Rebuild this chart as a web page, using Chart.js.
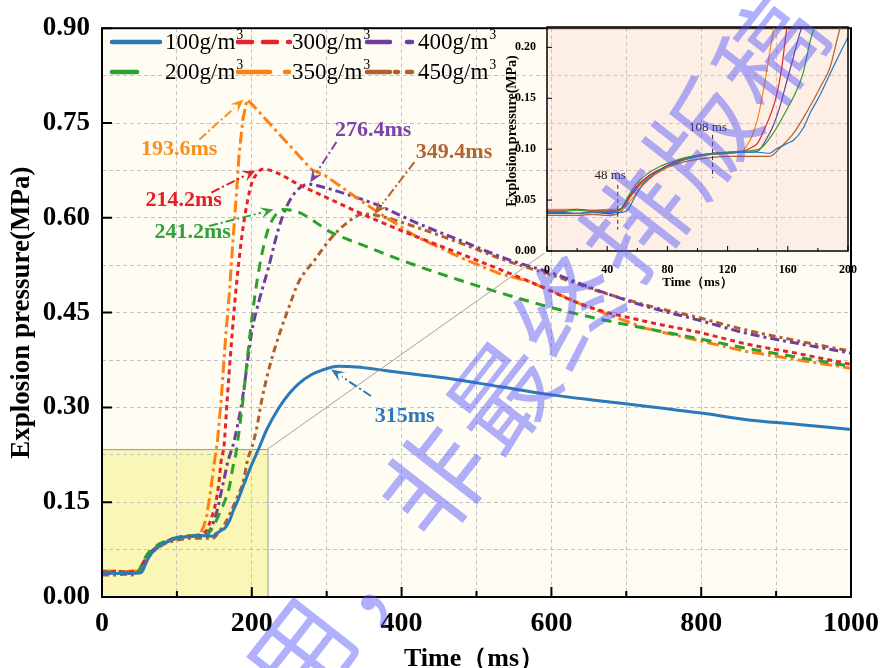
<!DOCTYPE html>
<html>
<head>
<meta charset="utf-8">
<script src="https://cdn.jsdelivr.net/npm/chart.js@4.4.0/dist/chart.umd.min.js"></script>
<style>
  html, body { margin: 0; padding: 0; background: #fff; overflow: hidden; }
  #wrap { position: relative; width: 889px; height: 668px; }
  #main { position: absolute; left: 0; top: 0; }
  #inset { position: absolute; left: 480px; top: 15px; }
  .wm {
    position: absolute;
    font-family: "Noto Sans CJK SC", sans-serif;
    font-size: 104px;
    line-height: 104px;
    color: rgba(80, 80, 250, 0.45);
    transform: translate(-50%, -50%) rotate(-52deg);
    white-space: nowrap;
    pointer-events: none;
  }
</style>
</head>
<body>
<div id="wrap">
  <canvas id="main" width="889" height="668"></canvas>
  <canvas id="inset" width="409" height="285"></canvas>
</div>
<script>
// time (ms) / pressure (MPa) for each dust concentration
const t100 = [0, 10, 20, 30, 40, 46, 50, 54, 58, 62, 66, 70, 75, 80, 90, 100, 110, 120, 130, 140, 148, 152, 156, 160, 164, 170, 175, 181, 190, 199, 209, 220, 236, 250, 262, 280, 302, 315, 340, 380, 420, 461, 530, 593, 660, 726, 800, 858, 930, 1000];
const p100 = [0.038, 0.038, 0.037, 0.038, 0.038, 0.038, 0.038, 0.041, 0.052, 0.062, 0.069, 0.074, 0.079, 0.083, 0.089, 0.093, 0.095, 0.096, 0.097, 0.097, 0.096, 0.100, 0.103, 0.106, 0.109, 0.120, 0.136, 0.152, 0.180, 0.207, 0.234, 0.265, 0.299, 0.322, 0.337, 0.352, 0.362, 0.365, 0.364, 0.358, 0.352, 0.346, 0.333, 0.321, 0.311, 0.302, 0.291, 0.281, 0.273, 0.265];

const t200 = [0, 10, 20, 30, 40, 46, 50, 54, 58, 62, 66, 70, 75, 80, 90, 100, 110, 120, 130, 141, 150, 159, 165, 170, 175, 178, 181, 188, 198, 207, 220, 232, 241, 262, 306, 350, 395, 450, 527, 600, 660, 726, 800, 858, 930, 1000];
const p200 = [0.039, 0.039, 0.040, 0.039, 0.039, 0.039, 0.043, 0.054, 0.063, 0.070, 0.075, 0.079, 0.083, 0.086, 0.091, 0.094, 0.096, 0.097, 0.098, 0.100, 0.115, 0.138, 0.155, 0.174, 0.207, 0.222, 0.245, 0.310, 0.420, 0.500, 0.575, 0.605, 0.613, 0.609, 0.577, 0.556, 0.535, 0.512, 0.483, 0.458, 0.441, 0.425, 0.408, 0.394, 0.379, 0.365];

const t300 = [0, 10, 20, 30, 40, 46, 50, 54, 58, 62, 66, 70, 75, 80, 90, 100, 110, 120, 130, 135, 140, 144, 148, 152, 156, 159, 163, 167, 174, 180, 187, 194, 200, 207, 214, 230, 262, 300, 351, 420, 483, 571, 650, 726, 800, 858, 930, 1000];
const p300 = [0.040, 0.040, 0.041, 0.040, 0.040, 0.040, 0.043, 0.052, 0.060, 0.067, 0.072, 0.076, 0.080, 0.084, 0.090, 0.094, 0.096, 0.097, 0.098, 0.101, 0.106, 0.118, 0.132, 0.150, 0.180, 0.215, 0.240, 0.310, 0.420, 0.500, 0.573, 0.625, 0.655, 0.670, 0.677, 0.673, 0.653, 0.632, 0.604, 0.570, 0.541, 0.499, 0.459, 0.436, 0.418, 0.401, 0.385, 0.368];

const t350 = [0, 10, 20, 30, 40, 46, 50, 54, 58, 62, 66, 70, 75, 80, 90, 100, 110, 120, 130, 132, 136, 140, 144, 148, 151, 154, 159, 165, 170, 174, 179, 183, 188, 193.6, 200, 240, 280, 298, 330, 368, 420, 483, 530, 571, 642, 726, 800, 858, 930, 1000];
const p350 = [0.041, 0.041, 0.041, 0.040, 0.041, 0.041, 0.041, 0.047, 0.054, 0.062, 0.068, 0.073, 0.078, 0.082, 0.089, 0.093, 0.095, 0.097, 0.098, 0.102, 0.112, 0.130, 0.160, 0.195, 0.222, 0.245, 0.310, 0.410, 0.480, 0.550, 0.630, 0.700, 0.755, 0.787, 0.780, 0.728, 0.676, 0.667, 0.640, 0.609, 0.570, 0.535, 0.512, 0.499, 0.462, 0.425, 0.405, 0.389, 0.375, 0.362];

const t400 = [0, 10, 20, 30, 40, 46, 50, 54, 58, 62, 66, 70, 75, 80, 90, 100, 110, 120, 130, 140, 145, 150, 155, 159, 164, 168, 176, 187, 200, 210, 222, 235, 245, 260, 276, 300, 330, 368, 420, 483, 540, 607, 660, 726, 800, 858, 930, 1000];
const p400 = [0.037, 0.037, 0.037, 0.038, 0.037, 0.038, 0.042, 0.052, 0.060, 0.067, 0.072, 0.076, 0.080, 0.084, 0.090, 0.093, 0.095, 0.096, 0.097, 0.098, 0.108, 0.122, 0.143, 0.165, 0.192, 0.214, 0.245, 0.310, 0.420, 0.470, 0.520, 0.580, 0.614, 0.643, 0.653, 0.647, 0.636, 0.620, 0.592, 0.562, 0.535, 0.510, 0.486, 0.460, 0.437, 0.418, 0.401, 0.386];

const t450 = [0, 10, 20, 30, 40, 46, 50, 54, 58, 62, 66, 70, 75, 80, 90, 100, 110, 120, 130, 148, 156, 164, 170, 177, 182, 188, 195, 200, 207, 213, 225, 238, 250, 262, 285, 306, 325, 349, 370, 420, 483, 540, 607, 660, 726, 800, 858, 930, 1000];
const p450 = [0.035, 0.035, 0.035, 0.036, 0.035, 0.036, 0.040, 0.050, 0.058, 0.065, 0.070, 0.074, 0.078, 0.082, 0.087, 0.090, 0.092, 0.093, 0.093, 0.093, 0.103, 0.116, 0.130, 0.148, 0.162, 0.180, 0.220, 0.236, 0.270, 0.310, 0.370, 0.420, 0.460, 0.497, 0.535, 0.568, 0.590, 0.606, 0.603, 0.585, 0.558, 0.532, 0.507, 0.485, 0.462, 0.441, 0.423, 0.405, 0.389];

const seriesNames = ["100", "200", "300", "350", "400", "450"];
const seriesTimes = [t100, t200, t300, t350, t400, t450];
const seriesValues = [p100, p200, p300, p350, p400, p450];
const seriesColors = ["#2a79b8", "#2ca02c", "#e6222a", "#ff8010", "#6f3c9f", "#b0602c"];
const seriesDash = [[], [10, 7], [5, 4], [12, 4, 3, 4], [9, 4, 3, 4], [7, 4, 3, 4]];
const legendDash = [[], [25, 40], [14, 11], [32, 15, 4, 20], [23, 17, 5, 20], [23, 5, 3, 9, 10, 20]];

// peak times called out on the main plot
const peakLabels = ["315ms", "241.2ms", "214.2ms", "193.6ms", "276.4ms", "349.4ms"];
const peakTextAt = [[404, 0.286], [121, 0.577], [109, 0.628], [103, 0.708], [362, 0.739], [470, 0.703]];
const peakArrowFrom = [[359, 0.318], [143, 0.587], [146, 0.640], [130, 0.724], [313, 0.720], [417, 0.688]];
const peakArrowTo = [[306, 0.360], [229, 0.613], [205, 0.675], [189, 0.787], [278, 0.656], [364, 0.606]];
const peakColors = ["#2a79b8", "#2fa33a", "#e31e24", "#f7901e", "#7a44a8", "#b2672f"];

const mainXLabels = [0, 200, 400, 600, 800, 1000];
const mainYLabels = [0, 0.15, 0.30, 0.45, 0.60, 0.75, 0.90];
const insetXLabels = [0, 40, 80, 120, 160, 200];
const insetYLabels = [0, 0.05, 0.10, 0.15, 0.20];

const zoomBox = { x: 221, y: 0.234 };
const insetCorner = { x: 590.7, y: 0.544 };
const insetMarks = [
  { text: "48 ms", at: [42, 0.0745], x: 47, from: 0.065, to: 0.021 },
  { text: "108 ms", at: [107, 0.121], x: 110, from: 0.114, to: 0.072 },
];

const watermarkText = "用，非最终排版稿";

const serif = "'Liberation Serif', 'Times New Roman', serif";
const near = (a, b) => Math.abs(a - b) < 1e-6;

function buildPoints(times, values) {
  return times.map((t, i) => ({ x: t, y: values[i] }));
}

const mainDatasets = seriesNames.map((name, i) => ({
  label: `${name}g/m3`,
  data: buildPoints(seriesTimes[i], seriesValues[i]),
  borderColor: seriesColors[i],
  borderWidth: 3,
  borderDash: seriesDash[i],
  pointRadius: 0,
  fill: false,
  tension: name === "350" ? 0 : 0.3,
  cubicInterpolationMode: name === "350" ? "default" : "monotone",
}));

const insetDatasets = seriesNames.map((name, i) => ({
  label: `${name}g/m3`,
  data: buildPoints(seriesTimes[i], seriesValues[i]),
  borderColor: seriesColors[i],
  borderWidth: 1.2,
  pointRadius: 0,
  fill: false,
  cubicInterpolationMode: "monotone",
}));

// legend layout order (two rows of three)
const legendOrder = [[0, 2, 4], [1, 3, 5]];
const legendCols = [[112, 160, 165], [238, 290, 292], [367, 412, 418]];
const legendRows = [42, 72];

function drawArrow(ctx, x1, y1, x2, y2, color) {
  const ang = Math.atan2(y2 - y1, x2 - x1);
  const head = 13;
  const bx = x2 - head * Math.cos(ang);
  const by = y2 - head * Math.sin(ang);
  ctx.save();
  ctx.strokeStyle = color;
  ctx.fillStyle = color;
  ctx.lineWidth = 2;
  ctx.setLineDash([9, 3, 2, 3]);
  ctx.beginPath();
  ctx.moveTo(x1, y1);
  ctx.lineTo(bx, by);
  ctx.stroke();
  ctx.setLineDash([]);
  ctx.beginPath();
  ctx.moveTo(x2, y2);
  ctx.lineTo(bx + 5.5 * Math.sin(ang), by - 5.5 * Math.cos(ang));
  ctx.lineTo(x2 - 0.6 * head * Math.cos(ang), y2 - 0.6 * head * Math.sin(ang));
  ctx.lineTo(bx - 5.5 * Math.sin(ang), by + 5.5 * Math.cos(ang));
  ctx.closePath();
  ctx.fill();
  ctx.restore();
}

function drawInwardTicks(ctx, chart, xMajor, xMinor, yMajor, majorLen, minorLen, width) {
  const { chartArea: a, scales: { x, y } } = chart;
  ctx.save();
  ctx.strokeStyle = "#000";
  ctx.lineWidth = width;
  ctx.beginPath();
  xMajor.forEach((v) => {
    const px = x.getPixelForValue(v);
    ctx.moveTo(px, a.bottom);
    ctx.lineTo(px, a.bottom - majorLen);
  });
  xMinor.forEach((v) => {
    const px = x.getPixelForValue(v);
    ctx.moveTo(px, a.bottom);
    ctx.lineTo(px, a.bottom - minorLen);
  });
  yMajor.forEach((v) => {
    const py = y.getPixelForValue(v);
    ctx.moveTo(a.left, py);
    ctx.lineTo(a.left + majorLen, py);
  });
  ctx.stroke();
  ctx.restore();
}

const mainDecor = {
  id: "mainDecor",
  beforeDraw(chart) {
    const { ctx, chartArea: a, scales: { x, y } } = chart;
    ctx.save();
    ctx.fillStyle = "#ffffff";
    ctx.fillRect(0, 0, chart.width, chart.height);
    ctx.fillStyle = "#fffcf4";
    ctx.fillRect(a.left, a.top, a.right - a.left, a.bottom - a.top);
    const x0 = x.getPixelForValue(0);
    const x1 = x.getPixelForValue(zoomBox.x);
    const y0 = y.getPixelForValue(0);
    const y1 = y.getPixelForValue(zoomBox.y);
    ctx.fillStyle = "#f9f6b6";
    ctx.fillRect(x0, y1, x1 - x0, y0 - y1);
    ctx.strokeStyle = "#9a9a7a";
    ctx.lineWidth = 1;
    ctx.strokeRect(x0 + 0.5, y1 + 0.5, x1 - x0, y0 - y1);
    ctx.restore();
  },
  afterDatasetsDraw(chart) {
    const { ctx, chartArea: a, scales: { x, y } } = chart;

    // connector from zoom box to inset
    ctx.save();
    ctx.strokeStyle = "#8a8a8a";
    ctx.lineWidth = 0.8;
    ctx.beginPath();
    ctx.moveTo(x.getPixelForValue(zoomBox.x), y.getPixelForValue(zoomBox.y));
    ctx.lineTo(x.getPixelForValue(insetCorner.x), y.getPixelForValue(insetCorner.y));
    ctx.stroke();
    ctx.restore();

    // peak callouts
    peakLabels.forEach((label, i) => {
      drawArrow(
        ctx,
        x.getPixelForValue(peakArrowFrom[i][0]), y.getPixelForValue(peakArrowFrom[i][1]),
        x.getPixelForValue(peakArrowTo[i][0]), y.getPixelForValue(peakArrowTo[i][1]),
        peakColors[i],
      );
    });
    ctx.save();
    ctx.font = `bold 22px ${serif}`;
    ctx.textAlign = "center";
    ctx.textBaseline = "middle";
    peakLabels.forEach((label, i) => {
      ctx.fillStyle = peakColors[i];
      ctx.fillText(label, x.getPixelForValue(peakTextAt[i][0]), y.getPixelForValue(peakTextAt[i][1]));
    });
    ctx.restore();

    // frame and inward ticks
    ctx.save();
    ctx.strokeStyle = "#000";
    ctx.lineWidth = 2;
    ctx.strokeRect(a.left, a.top, a.right - a.left, a.bottom - a.top);
    ctx.restore();
    drawInwardTicks(ctx, chart, mainXLabels, [100, 300, 500, 700, 900], mainYLabels, 10, 6, 2);

    // legend
    ctx.save();
    ctx.textBaseline = "middle";
    ctx.textAlign = "left";
    legendOrder.forEach((row, r) => {
      row.forEach((si, c) => {
        const [s0, s1, tx] = legendCols[c];
        const ly = legendRows[r];
        ctx.strokeStyle = seriesColors[si];
        ctx.lineWidth = 4.5;
        ctx.lineCap = "round";
        ctx.setLineDash(legendDash[si]);
        ctx.beginPath();
        ctx.moveTo(s0, ly);
        ctx.lineTo(s1, ly);
        ctx.stroke();
        ctx.setLineDash([]);
        ctx.fillStyle = "#000";
        ctx.font = `23px ${serif}`;
        const base = `${seriesNames[si]}g/m`;
        ctx.fillText(base, tx, ly + 1);
        const w = ctx.measureText(base).width;
        ctx.font = `14px ${serif}`;
        ctx.fillText("3", tx + w + 1, ly - 7);
      });
    });
    ctx.restore();

    // axis titles
    ctx.save();
    ctx.fillStyle = "#000";
    ctx.font = `bold 26px ${serif}`;
    ctx.textAlign = "center";
    ctx.textBaseline = "alphabetic";
    ctx.fillText("Time（ms）", (a.left + a.right) / 2 - 2, 666);
    ctx.translate(22, (a.top + a.bottom) / 2);
    ctx.rotate(-Math.PI / 2);
    ctx.font = `bold 27px ${serif}`;
    ctx.textBaseline = "middle";
    ctx.fillText("Explosion pressure(MPa)", 0, 0);
    ctx.restore();
  },
};

const insetDecor = {
  id: "insetDecor",
  beforeDraw(chart) {
    const { ctx, chartArea: a } = chart;
    ctx.save();
    ctx.fillStyle = "rgba(246, 200, 188, 0.26)";
    ctx.fillRect(a.left, a.top, a.right - a.left, a.bottom - a.top);
    ctx.restore();
  },
  afterDatasetsDraw(chart) {
    const { ctx, chartArea: a, scales: { x, y } } = chart;

    // time markers
    ctx.save();
    ctx.strokeStyle = "#333";
    ctx.lineWidth = 1;
    ctx.setLineDash([4, 3]);
    insetMarks.forEach((m) => {
      const px = x.getPixelForValue(m.x);
      ctx.beginPath();
      ctx.moveTo(px, y.getPixelForValue(m.from));
      ctx.lineTo(px, y.getPixelForValue(m.to));
      ctx.stroke();
    });
    ctx.setLineDash([]);
    ctx.fillStyle = "#222";
    ctx.font = `13px ${serif}`;
    ctx.textAlign = "center";
    ctx.textBaseline = "middle";
    insetMarks.forEach((m) => {
      ctx.fillText(m.text, x.getPixelForValue(m.at[0]), y.getPixelForValue(m.at[1]));
    });
    ctx.restore();

    ctx.save();
    ctx.strokeStyle = "#000";
    ctx.lineWidth = 1.5;
    ctx.strokeRect(a.left, a.top, a.right - a.left, a.bottom - a.top);
    ctx.restore();
    drawInwardTicks(ctx, chart, insetXLabels, [20, 60, 100, 140, 180], insetYLabels, 5, 3, 1);

    ctx.save();
    ctx.fillStyle = "#000";
    ctx.font = `bold 13px ${serif}`;
    ctx.textAlign = "center";
    ctx.textBaseline = "middle";
    ctx.fillText("Time（ms）", (a.left + a.right) / 2, 268);
    ctx.translate(32, (a.top + a.bottom) / 2 - 8);
    ctx.rotate(-Math.PI / 2);
    ctx.font = `bold 14px ${serif}`;
    ctx.fillText("Explosion pressure(MPa)", 0, 0);
    ctx.restore();
  },
};

new Chart(document.getElementById("main"), {
  type: "line",
  data: { datasets: mainDatasets },
  options: {
    responsive: false,
    animation: false,
    devicePixelRatio: 1,
    layout: { padding: { left: 0, top: 25, right: 32, bottom: 0 } },
    plugins: { legend: { display: false }, tooltip: { enabled: false } },
    scales: {
      x: {
        type: "linear",
        min: 0,
        max: 1000,
        afterFit(scale) { scale.height = 71; },
        ticks: {
          stepSize: 100,
          autoSkip: false,
          maxRotation: 0,
          padding: 10,
          color: "#000",
          font: { family: serif, size: 28, weight: "bold" },
          callback: (v) => (mainXLabels.includes(v) ? String(v) : ""),
        },
        grid: { color: "#c4c4c4", lineWidth: 1, drawTicks: false },
        border: { display: false, dash: [4, 3] },
      },
      y: {
        type: "linear",
        min: 0,
        max: 0.9,
        afterFit(scale) { scale.width = 102; },
        ticks: {
          stepSize: 0.075,
          autoSkip: false,
          padding: 12,
          color: "#000",
          font: { family: serif, size: 27, weight: "bold" },
          callback: (v) => (mainYLabels.some((l) => near(l, v)) ? v.toFixed(2) : ""),
        },
        grid: { color: "#c4c4c4", lineWidth: 1, drawTicks: false },
        border: { display: false, dash: [4, 3] },
      },
    },
  },
  plugins: [mainDecor],
});

new Chart(document.getElementById("inset"), {
  type: "line",
  data: { datasets: insetDatasets },
  options: {
    responsive: false,
    animation: false,
    devicePixelRatio: 1,
    layout: { padding: { left: 0, top: 12, right: 41, bottom: 0 } },
    plugins: { legend: { display: false }, tooltip: { enabled: false } },
    scales: {
      x: {
        type: "linear",
        min: 0,
        max: 200,
        afterFit(scale) { scale.height = 49; },
        ticks: {
          stepSize: 20,
          autoSkip: false,
          maxRotation: 0,
          padding: 4,
          color: "#000",
          font: { family: serif, size: 12, weight: "bold" },
          callback: (v) => (insetXLabels.includes(v) ? String(v) : ""),
        },
        grid: { display: false },
        border: { display: false },
      },
      y: {
        type: "linear",
        min: 0,
        max: 0.22,
        afterFit(scale) { scale.width = 67; },
        ticks: {
          stepSize: 0.05,
          autoSkip: false,
          padding: 3,
          color: "#000",
          font: { family: serif, size: 12, weight: "bold" },
          callback: (v) => (insetYLabels.some((l) => near(l, v)) ? v.toFixed(2) : ""),
        },
        grid: { display: false },
        border: { display: false },
      },
    },
  },
  plugins: [insetDecor],
});

// watermark characters along a diagonal
const wrap = document.getElementById("wrap");
Array.from(watermarkText).forEach((ch, i) => {
  const span = document.createElement("span");
  span.className = "wm";
  span.textContent = ch;
  span.style.left = `${430 + (i - 2) * 67}px`;
  span.style.top = `${478 - (i - 2) * 86}px`;
  wrap.appendChild(span);
});
</script>
</body>
</html>
